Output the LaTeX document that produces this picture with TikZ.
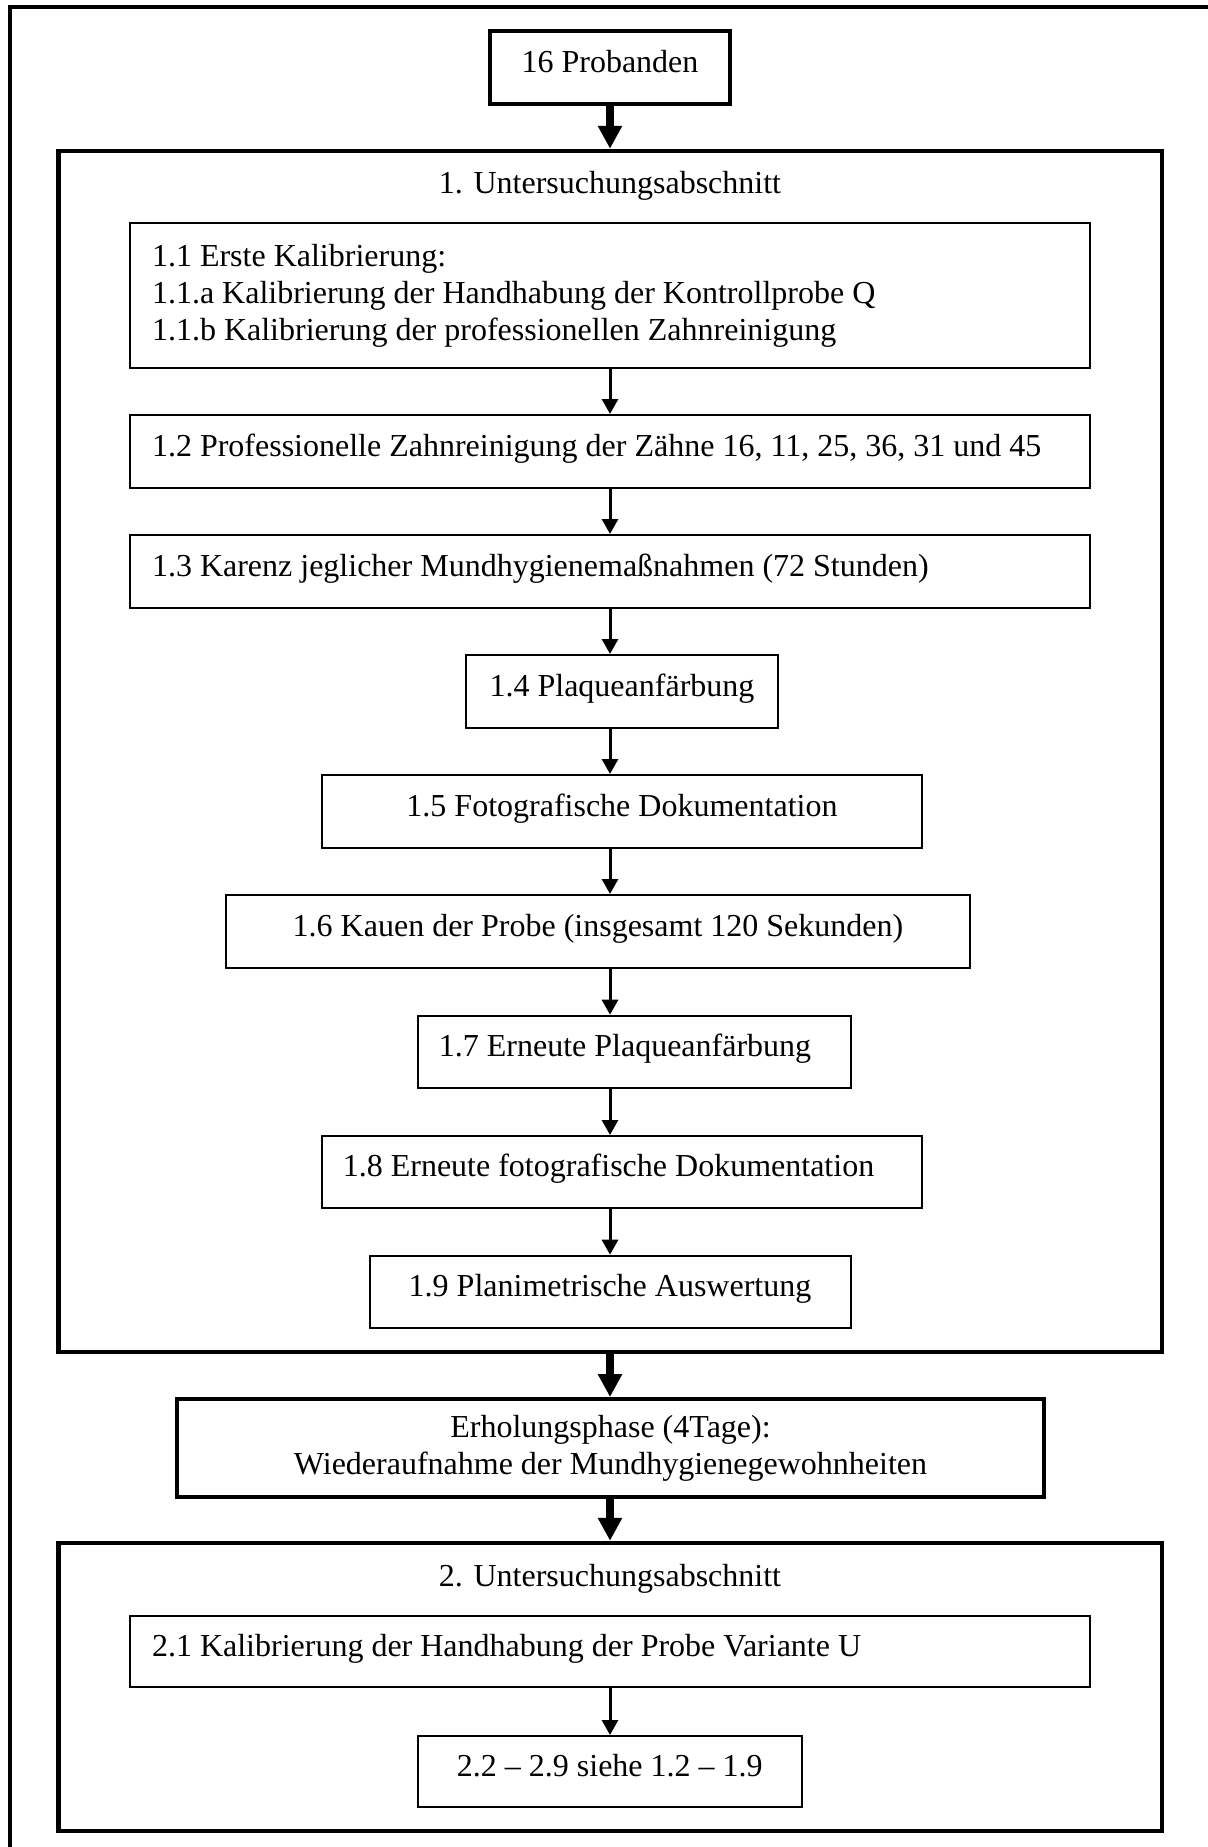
\documentclass[tikz,border=0pt]{standalone}
\usepackage{fontspec}
\setmainfont{Liberation Serif}
\usetikzlibrary{arrows.meta,calc}
\begin{document}
\begin{tikzpicture}[x=0.5pt,y=-0.5pt,
  font=\fontsize{16pt}{18.5pt}\selectfont,
  thinbox/.style={draw,line width=1pt,inner sep=0pt,text height=9.6pt,text depth=4.8pt},
  leftbox/.style={draw,line width=1pt,inner xsep=11pt,inner ysep=0pt,text width=458pt,align=flush left,minimum width=480pt},
  boldbox/.style={draw,inner sep=0pt},
  sectionbox/.style={draw,line width=2.25pt,inner sep=0pt,minimum width=551.75pt},
  framestyle/.style={line width=2pt},
  thinarrow/.style={-{Triangle[width=8pt,length=7.5pt]},line width=1.5pt},
  thickarrow/.style={-{Triangle[width=11.5pt,length=11.5pt]},line width=3.75pt},
  titlestyle/.style={anchor=base,inner sep=0pt}]

\useasboundingbox (0,0) rectangle (1208,1847);
\draw[framestyle] (10,1847) |- (1208,7);

\coordinate (ax) at (610,0);

\node[boldbox,line width=1.75pt,text height=9.6pt,text depth=4.8pt,minimum width=120pt,minimum height=36.5pt] (P16) at (610,67.5) {16 Probanden};

\node[sectionbox,minimum height=600.5pt] (S1) at (610.25,751.5) {};
\node[titlestyle] (T1) at (610,193) {1. Untersuchungsabschnitt};

\node[leftbox,minimum height=72.5pt] (B11) at (610,295.5) {1.1 Erste Kalibrierung:\\1.1.a Kalibrierung der Handhabung der Kontrollprobe Q\\1.1.b Kalibrierung der professionellen Zahnreinigung};
\node[leftbox,text height=9.6pt,text depth=4.8pt,minimum height=36.5pt] (B12) at (610,451.5) {1.2 Professionelle Zahnreinigung der Zähne 16, 11, 25, 36, 31 und 45};
\node[leftbox,text height=9.6pt,text depth=4.8pt,minimum height=36.5pt] (B13) at (610,571.5) {1.3 Karenz jeglicher Mundhygienemaßnahmen (72 Stunden)};
\node[thinbox,minimum width=156pt,minimum height=36.5pt] (B14) at (622,691.5) {1.4 Plaqueanfärbung};
\node[thinbox,minimum width=300pt,minimum height=36.5pt] (B15) at (622,811.5) {1.5 Fotografische Dokumentation};
\node[thinbox,minimum width=372pt,minimum height=36.5pt] (B16) at (598,931.5) {1.6 Kauen der Probe (insgesamt 120 Sekunden)};
\node[thinbox,minimum width=216.5pt,minimum height=36pt] (B17) at (634,1051.7) {1.7 Erneute Plaqueanfärbung\hspace*{9pt}};
\node[thinbox,minimum width=300pt,minimum height=36pt] (B18) at (622,1172) {1.8 Erneute fotografische Dokumentation\hspace*{13.5pt}};
\node[thinbox,minimum width=240.5pt,minimum height=36pt] (B19) at (610,1291.7) {1.9 Planimetrische Auswertung};

\node[boldbox,line width=2pt,align=center,minimum width=433.5pt,minimum height=49pt] (Erh) at (610.5,1448) {Erholungsphase (4Tage):\\Wiederaufnahme der Mundhygienegewohnheiten};

\node[sectionbox,minimum height=144pt] (S2) at (610.25,1687) {};
\node[titlestyle] (T2) at (610,1586.7) {2. Untersuchungsabschnitt};
\node[leftbox,text height=9.6pt,text depth=4.8pt,minimum height=35.5pt] (B21) at (610,1651.5) {2.1 Kalibrierung der Handhabung der Probe Variante U};
\node[thinbox,minimum width=192.2pt,minimum height=35.5pt] (B22) at (609.8,1771.5) {2.2 – 2.9 siehe 1.2 – 1.9};

\draw[thickarrow] (P16.south -| ax) -- (S1.north -| ax);
\draw[thinarrow] (B11.south -| ax) -- (B12.north -| ax);
\draw[thinarrow] (B12.south -| ax) -- (B13.north -| ax);
\draw[thinarrow] (B13.south -| ax) -- (B14.north -| ax);
\draw[thinarrow] (B14.south -| ax) -- (B15.north -| ax);
\draw[thinarrow] (B15.south -| ax) -- (B16.north -| ax);
\draw[thinarrow] (B16.south -| ax) -- (B17.north -| ax);
\draw[thinarrow] (B17.south -| ax) -- (B18.north -| ax);
\draw[thinarrow] (B18.south -| ax) -- (B19.north -| ax);
\draw[thickarrow] (S1.south -| ax) -- (Erh.north -| ax);
\draw[thickarrow] (Erh.south -| ax) -- (S2.north -| ax);
\draw[thinarrow] (B21.south -| ax) -- (B22.north -| ax);
\end{tikzpicture}
\end{document}
